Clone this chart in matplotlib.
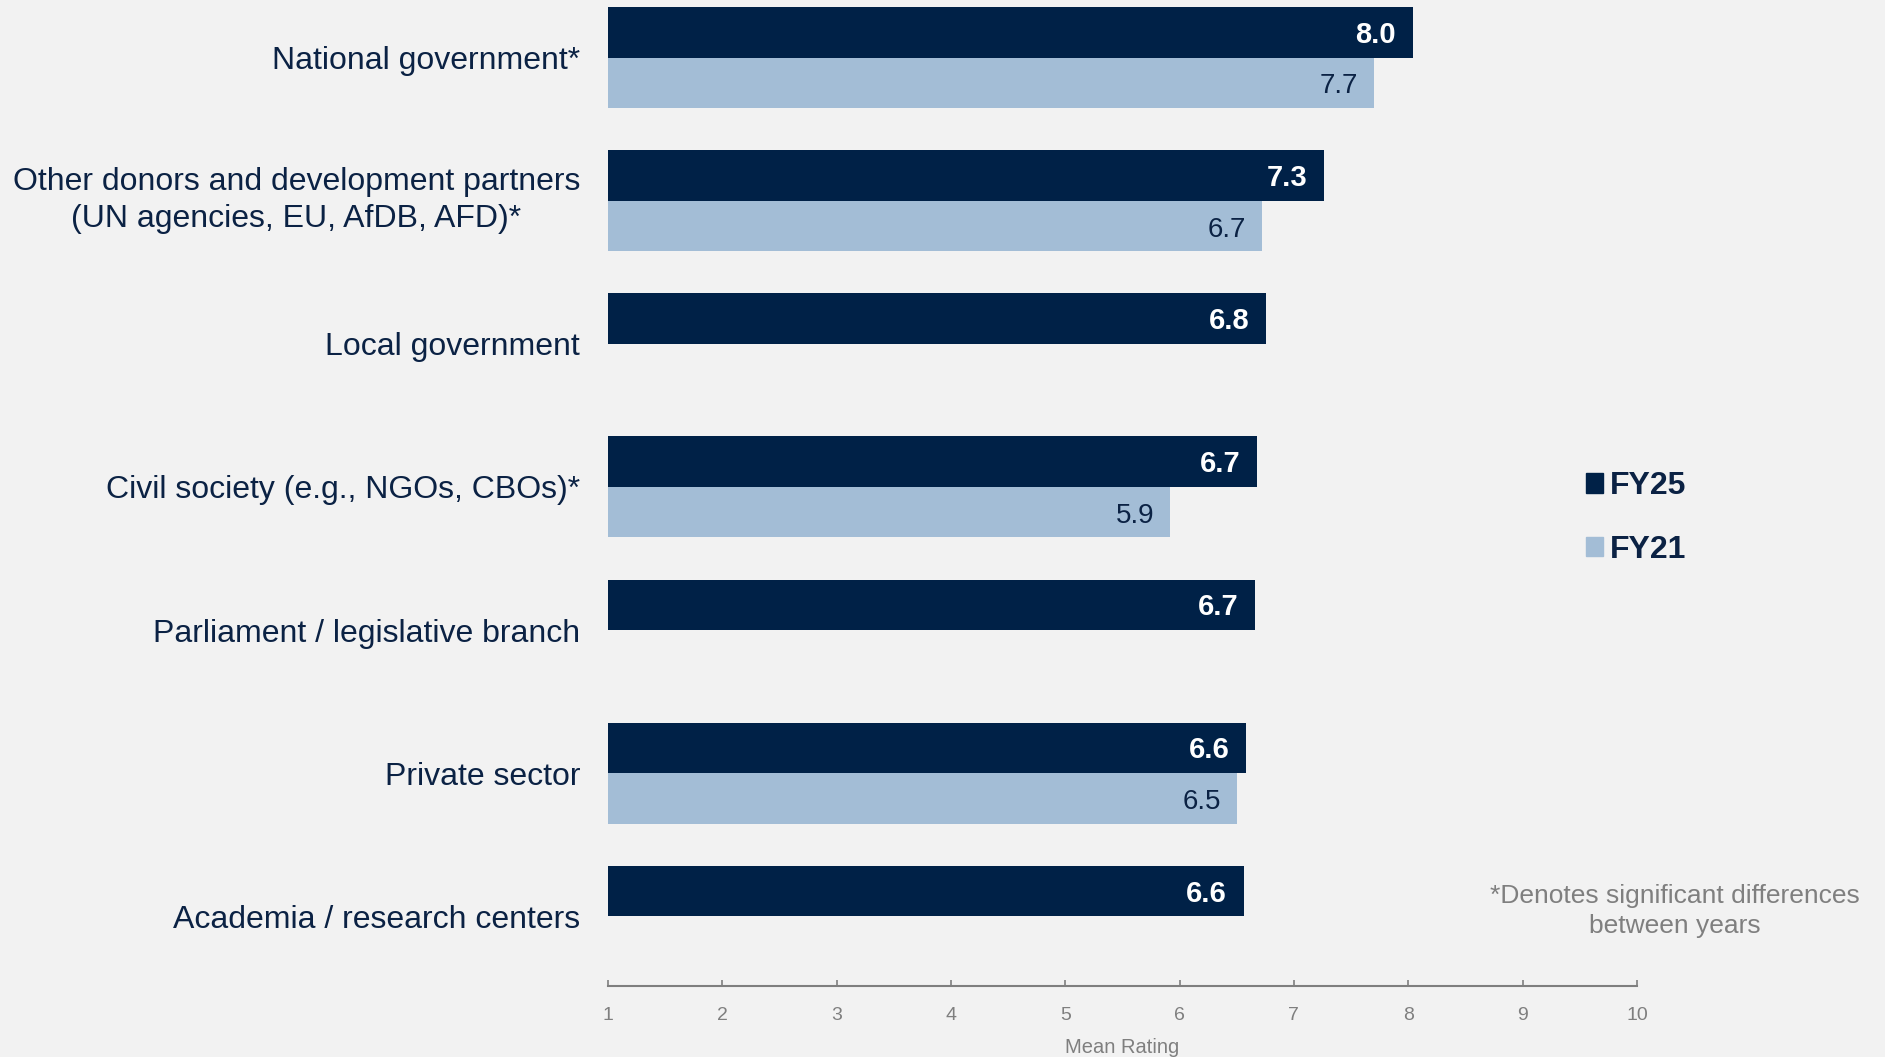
import numpy as np
import matplotlib
matplotlib.use("Agg")
import matplotlib.pyplot as plt
from matplotlib.patches import Patch

plt.rcParams['font.family'] = ['Liberation Sans', 'DejaVu Sans']

categories = [
    "National government*",
    "Other donors and development partners\n(UN agencies, EU, AfDB, AFD)*",
    "Local government",
    "Civil society (e.g., NGOs, CBOs)*",
    "Parliament / legislative branch",
    "Private sector",
    "Academia / research centers",
]
fy25 = [8.04, 7.26, 6.76, 6.68, 6.66, 6.58, 6.56]
fy21 = [7.70, 6.72, np.nan, 5.92, np.nan, 6.50, np.nan]
series_names = ["FY25", "FY21"]
xticks = list(range(1, 11))

NAVY = "#002147"
LIGHT = "#A3BDD6"
BG = "#F2F2F2"
TXT = "#0B2244"
GRAY = "#7F7F7F"

fig = plt.figure(figsize=(18.85, 10.57), dpi=100, facecolor=BG)
ax = fig.add_axes([0.3225, 0.0672, 0.8684 - 0.3225, 1 - 0.0672])
ax.set_facecolor(BG)

h = 0.353
y = np.arange(len(categories))
for i, (a, b) in enumerate(zip(fy25, fy21)):
    ax.barh(y[i] - h / 2, a - 1, left=1, height=h, color=NAVY)
    ax.annotate(f"{a:.1f}", xy=(a, y[i] - h / 2), xytext=(-12, -1.8),
                textcoords='offset points', ha='right', va='center',
                color='white', fontsize=21, fontweight='bold')
    if not np.isnan(b):
        ax.barh(y[i] + h / 2, b - 1, left=1, height=h, color=LIGHT)
        ax.annotate(f"{b:.1f}", xy=(b, y[i] + h / 2), xytext=(-11.5, -2.5),
                    textcoords='offset points', ha='right', va='center',
                    color=TXT, fontsize=20)

ax.set_xlim(1, 10)
ax.set_ylim(6.487, -0.403)
ax.set_yticks(y)
ax.set_yticklabels(categories, fontsize=23, color=TXT, multialignment='center',
                   linespacing=1.3)
for lab in ax.get_yticklabels():
    if "\n" in lab.get_text():
        lab.set_verticalalignment('center')
ax.tick_params(axis='y', length=0, pad=20)
ax.set_xticks(xticks)
ax.set_xticklabels([str(t) for t in xticks], fontsize=14, color=GRAY)
ax.tick_params(axis='x', direction='in', length=4.5, width=1.2, color=GRAY, pad=15)
ax.set_xlabel("Mean Rating", fontsize=14.5, color=GRAY, labelpad=10)

for s in ['top', 'right', 'left']:
    ax.spines[s].set_visible(False)
ax.spines['bottom'].set_color(GRAY)
ax.spines['bottom'].set_linewidth(1.5)

handles = [Patch(color=NAVY), Patch(color=LIGHT)]
leg = fig.legend(handles, series_names, loc='center left',
                 bbox_to_anchor=(1557 / 1885, 1 - 518 / 1057),
                 frameon=False, handlelength=0.55, handleheight=0.55,
                 handletextpad=0.22, labelspacing=1.05,
                 prop={'size': 23, 'weight': 'bold'})
for t in leg.get_texts():
    t.set_color(TXT)

fig.text(1675 / 1885, 1 - 911 / 1057,
         "*Denotes significant differences\nbetween years",
         ha='center', va='center', fontsize=19, color=GRAY, linespacing=1.3)

fig.savefig("out.png", dpi=100, facecolor=BG)
